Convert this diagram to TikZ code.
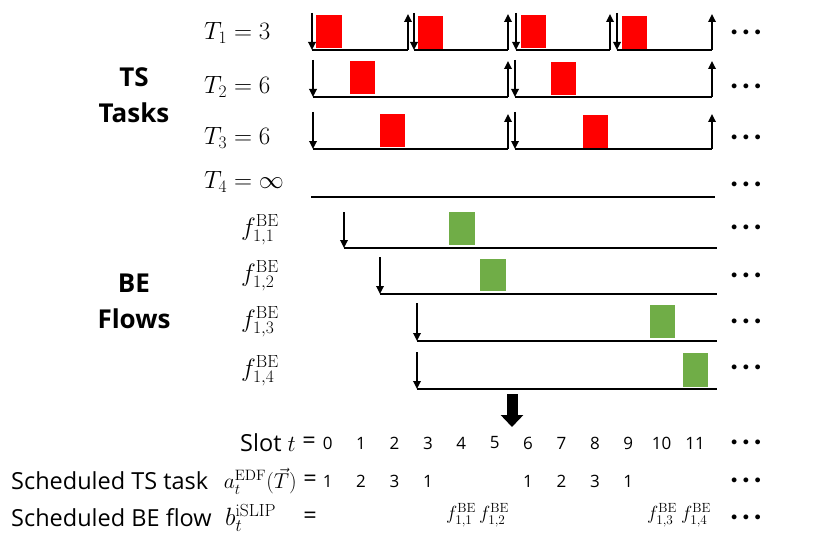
\RequirePackage{fix-cm}
\documentclass[tikz,border=0pt]{standalone}
\usepackage{amsmath}
\usepackage[no-math]{fontspec}
\newfontfamily\txtfont{Open Sans}
\usetikzlibrary{arrows.meta}

\definecolor{tsred}{RGB}{255,0,0}
\definecolor{begreen}{RGB}{112,173,71}

\newcommand{\moredots}{$\bullet$\hspace{5.5pt}$\bullet$\hspace{5.5pt}$\bullet$}

\tikzset{
  tsbox/.style={fill=tsred},
  bebox/.style={fill=begreen},
  baseln/.style={line width=1.9pt},
  rel/.style={line width=1.7pt,-{Triangle[width=7.5pt,length=8pt]}},
  lbl/.style={inner sep=0pt,font=\fontsize{21.5}{25}\selectfont},
  tlbl/.style={inner sep=0pt,font=\fontsize{25}{29}\selectfont},
  flbl/.style={inner sep=0pt,font=\fontsize{25}{29}\selectfont},
  txt/.style={inner sep=0pt,font=\txtfont\fontsize{23.5}{28}\selectfont},
  num/.style={inner sep=0pt,font=\txtfont\fontsize{17}{20}\selectfont},
  more/.style={inner sep=0pt,font=\fontsize{12.5}{13}\selectfont},
  grp/.style={inner sep=0pt,align=center,font=\txtfont\bfseries\fontsize{26}{36}\selectfont},
}

\begin{document}
\begin{tikzpicture}[x=1pt,y=-1pt]
  \useasboundingbox (0,0) rectangle (831,543);

  % group names
  \node[grp] (tsgrp) at (134,95) {TS\\Tasks};
  \node[grp] (begrp) at (134,301) {BE\\Flows};

  % row labels
  \node[tlbl,anchor=west] (t1lbl) at (204,33) {$T_1 = 3$};
  \node[tlbl,anchor=west] (t2lbl) at (204,87) {$T_2 = 6$};
  \node[tlbl,anchor=west] (t3lbl) at (204,138) {$T_3 = 6$};
  \node[tlbl,anchor=west] (t4lbl) at (204,182) {$T_4 = \infty$};
  \node[flbl,anchor=east] (f1lbl) at (279,230) {$f_{1,1}^{\mathrm{BE}}$};
  \node[flbl,anchor=east] (f2lbl) at (279,276) {$f_{1,2}^{\mathrm{BE}}$};
  \node[flbl,anchor=east] (f3lbl) at (279,322) {$f_{1,3}^{\mathrm{BE}}$};
  \node[flbl,anchor=east] (f4lbl) at (279,371) {$f_{1,4}^{\mathrm{BE}}$};

  % TS task periods
  \foreach \a/\b in {312/408,414/508,516/610,617/712} {
    \draw[baseln] (\a,50) -- (\b,50);
    \draw[rel] (\a,13) -- (\a,50);
    \draw[rel] (\b,50) -- (\b,14);
  }
  \foreach \a/\b in {313/508,515/712} {
    \draw[baseln] (\a,97) -- (\b,97);
    \draw[rel] (\a,60) -- (\a,97);
    \draw[rel] (\b,97) -- (\b,61);
    \draw[baseln] (\a,149) -- (\b,149);
    \draw[rel] (\a,112) -- (\a,149);
    \draw[rel] (\b,149) -- (\b,114);
  }
  \draw[baseln] (311,197) -- (715,197);

  % TS jobs
  \fill[tsbox] (316,15) rectangle (342,48);
  \fill[tsbox] (418,16) rectangle (443,49);
  \fill[tsbox] (521,15) rectangle (546,48);
  \fill[tsbox] (622,16) rectangle (647,49);
  \fill[tsbox] (350,61) rectangle (375,94);
  \fill[tsbox] (551,62) rectangle (576,95);
  \fill[tsbox] (380,114) rectangle (405,147);
  \fill[tsbox] (583,115) rectangle (608,148);

  % BE flows
  \draw[rel] (344,212) -- (344,248);
  \draw[baseln] (344,248) -- (717,248);
  \draw[rel] (380,257) -- (380,294);
  \draw[baseln] (380,294) -- (717,294);
  \draw[rel] (417,303) -- (417,341);
  \draw[baseln] (417,341) -- (717,341);
  \draw[rel] (417,352) -- (417,389);
  \draw[baseln] (417,389) -- (717,389);

  \fill[bebox] (449,212) rectangle (475,245);
  \fill[bebox] (480,259) rectangle (506,291);
  \fill[bebox] (650,305) rectangle (675,338);
  \fill[bebox] (683,353) rectangle (708,387);

  % continuation dots
  \node[more] (m1) at (746,33) {\moredots};
  \node[more] (m2) at (746,87) {\moredots};
  \node[more] (m3) at (746,138) {\moredots};
  \node[more] (m4) at (746,185) {\moredots};
  \node[more] (m5) at (746,228) {\moredots};
  \node[more] (m6) at (746,276) {\moredots};
  \node[more] (m7) at (746,322) {\moredots};
  \node[more] (m8) at (746,368) {\moredots};

  % schedule arrow
  \coordinate (go) at (512,394);
  \coordinate (stop) at (512,427);
  \draw[line width=11pt,-{Triangle[width=22pt,length=12pt]}] (go) -- (stop);

  % slot table
  \node[txt,anchor=east] (slotlbl) at (296,443) {Slot \fontsize{23}{27}\selectfont$t$};
  \node[txt] (eq1) at (309,443) {=};
  \node[txt,anchor=west] (tslbl) at (11,481) {Scheduled TS task};
  \node[lbl,anchor=east] (tsfun) at (297,481) {$a_t^{\mathrm{EDF}}(\vec{T})$};
  \node[txt] (eq2) at (310,481) {=};
  \node[txt,anchor=west] (belbl) at (11,518) {Scheduled BE flow};
  \node[flbl,anchor=west] (befun) at (225,518) {$b_t^{\mathrm{iSLIP}}$};
  \node[txt] (eq3) at (310,518) {=};

  \foreach \k in {0,...,11}
    \node[num] (s\k) at ({327.7+33.4*\k},443) {\k};
  \foreach \k/\j in {0/1,1/2,2/3,3/1,6/1,7/2,8/3,9/1}
    \node[num] (a\k) at ({327.7+33.4*\k},481) {\j};
  \node[lbl,font=\fontsize{19}{22}\selectfont] (b4) at (461,515) {$f_{1,1}^{\mathrm{BE}}$};
  \node[lbl,font=\fontsize{19}{22}\selectfont] (b5) at (494,515) {$f_{1,2}^{\mathrm{BE}}$};
  \node[lbl,font=\fontsize{19}{22}\selectfont] (b10) at (662,515) {$f_{1,3}^{\mathrm{BE}}$};
  \node[lbl,font=\fontsize{19}{22}\selectfont] (b11) at (696,515) {$f_{1,4}^{\mathrm{BE}}$};

  \node[more] (m9) at (746,443) {\moredots};
  \node[more] (m10) at (746,481) {\moredots};
  \node[more] (m11) at (746,518) {\moredots};
\end{tikzpicture}
\end{document}
